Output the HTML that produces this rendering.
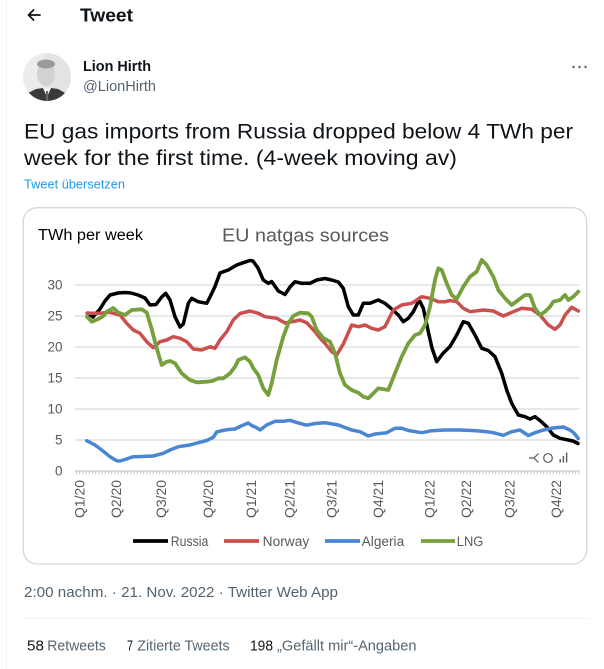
<!DOCTYPE html>
<html><head><meta charset="utf-8">
<style>
html,body{margin:0;padding:0;background:#fff;width:604px;height:669px;overflow:hidden}
svg{display:block}
.t{font-family:"Liberation Sans",Arial,sans-serif}
</style></head>
<body>
<svg width="604" height="669" viewBox="0 0 604 669" xmlns="http://www.w3.org/2000/svg">
<defs>
<clipPath id="av"><circle cx="47" cy="77" r="24"/></clipPath>
</defs>
<rect width="604" height="669" fill="#fff"/>
<line x1="6.5" y1="0" x2="6.5" y2="669" stroke="#eff3f4" stroke-width="1"/>

<!-- header -->
<path d="M28.5,15 H40 M33.5,10 L28.5,15 L33.5,20" fill="none" stroke="#0f1419" stroke-width="1.8" stroke-linecap="round" stroke-linejoin="round"/>
<text class="t" x="80" y="21.5" font-size="18" font-weight="bold" fill="#0f1419" textLength="53" lengthAdjust="spacingAndGlyphs">Tweet</text>

<!-- avatar -->
<g clip-path="url(#av)">
<rect x="23" y="53" width="48" height="48" fill="#e3e3e3"/>
<rect x="23" y="53" width="22" height="48" fill="#ececec"/>
<ellipse cx="46" cy="74" rx="9" ry="12" fill="#d2d2d2"/>
<ellipse cx="46" cy="64" rx="9" ry="4.5" fill="#9a9a9a"/>
<path d="M22,101 L26,94 L36,89 L43,88 L47,96 L51,88 L58,89 L67,94 L72,101 Z" fill="#3a3a3a"/>
<path d="M43,88 L47,97 L51,88 Z" fill="#f2f2f2"/>
<path d="M46,91 L48,91 L48,101 L46,101 Z" fill="#666"/>
</g>

<text class="t" x="83" y="71" font-size="15" font-weight="bold" fill="#0f1419" textLength="68" lengthAdjust="spacingAndGlyphs">Lion Hirth</text>
<text class="t" x="83" y="91" font-size="15" fill="#536471" textLength="73" lengthAdjust="spacingAndGlyphs">@LionHirth</text>
<g fill="#536471"><circle cx="573.5" cy="67" r="1.2"/><circle cx="579.5" cy="67" r="1.2"/><circle cx="585.5" cy="67" r="1.2"/></g>

<!-- tweet text -->
<text class="t" x="24" y="138.5" font-size="21" fill="#0f1419" textLength="549" lengthAdjust="spacingAndGlyphs">EU gas imports from Russia dropped below 4 TWh per</text>
<text class="t" x="24" y="164.8" font-size="21" fill="#0f1419" textLength="433" lengthAdjust="spacingAndGlyphs">week for the first time. (4-week moving av)</text>
<text class="t" x="24" y="188.3" font-size="12.5" fill="#1d9bf0" textLength="101" lengthAdjust="spacingAndGlyphs">Tweet übersetzen</text>

<!-- chart card -->
<rect x="23.3" y="207.7" width="563.4" height="356.3" rx="14" ry="14" fill="#fff" stroke="#cfd9de" stroke-width="1.3"/>

<!-- chart titles -->
<text class="t" x="38" y="240" font-size="15.5" fill="#000" textLength="105" lengthAdjust="spacingAndGlyphs">TWh per week</text>
<text class="t" x="222" y="241.5" font-size="18" fill="#595959" textLength="167" lengthAdjust="spacingAndGlyphs">EU natgas sources</text>

<!-- gridlines -->
<g stroke="#d9d9d9" stroke-width="1.2">
<line x1="75" y1="285" x2="579.5" y2="285"/>
<line x1="75" y1="316" x2="579.5" y2="316"/>
<line x1="75" y1="347" x2="579.5" y2="347"/>
<line x1="75" y1="378" x2="579.5" y2="378"/>
<line x1="75" y1="409" x2="579.5" y2="409"/>
<line x1="75" y1="440" x2="579.5" y2="440"/>
</g>
<line x1="75" y1="471" x2="579.5" y2="471" stroke="#bfbfbf" stroke-width="1"/>
<line x1="76" y1="472.8" x2="579.5" y2="472.8" stroke="#c4c4c4" stroke-width="3" stroke-dasharray="1 2.2"/>

<!-- y tick labels -->
<g class="t" font-size="13.5" fill="#595959" text-anchor="end">
<text x="62.5" y="289.5">30</text>
<text x="62.5" y="320.5">25</text>
<text x="62.5" y="351.5">20</text>
<text x="62.5" y="382.5">15</text>
<text x="62.5" y="413.5">10</text>
<text x="62.5" y="444.5">5</text>
<text x="62.5" y="475.5">0</text>
</g>

<!-- x labels -->
<g class="t" font-size="13.5" fill="#595959">
<text transform="translate(84.5,518) rotate(-90)" textLength="38" lengthAdjust="spacingAndGlyphs">Q1/20</text>
<text transform="translate(121.2,518) rotate(-90)" textLength="38" lengthAdjust="spacingAndGlyphs">Q2/20</text>
<text transform="translate(166.2,518) rotate(-90)" textLength="38" lengthAdjust="spacingAndGlyphs">Q3/20</text>
<text transform="translate(212.8,518) rotate(-90)" textLength="38" lengthAdjust="spacingAndGlyphs">Q4/20</text>
<text transform="translate(256.2,518) rotate(-90)" textLength="38" lengthAdjust="spacingAndGlyphs">Q1/21</text>
<text transform="translate(294.5,518) rotate(-90)" textLength="38" lengthAdjust="spacingAndGlyphs">Q2/21</text>
<text transform="translate(336.7,518) rotate(-90)" textLength="38" lengthAdjust="spacingAndGlyphs">Q3/21</text>
<text transform="translate(382.8,518) rotate(-90)" textLength="38" lengthAdjust="spacingAndGlyphs">Q4/21</text>
<text transform="translate(434.5,518) rotate(-90)" textLength="38" lengthAdjust="spacingAndGlyphs">Q1/22</text>
<text transform="translate(471.2,518) rotate(-90)" textLength="38" lengthAdjust="spacingAndGlyphs">Q2/22</text>
<text transform="translate(514.5,518) rotate(-90)" textLength="38" lengthAdjust="spacingAndGlyphs">Q3/22</text>
<text transform="translate(561.2,518) rotate(-90)" textLength="38" lengthAdjust="spacingAndGlyphs">Q4/22</text>
</g>

<!-- series -->
<g fill="none" stroke-width="3.5" stroke-linejoin="round" stroke-linecap="round">
<polyline stroke="#000" points="88,313 93,317 100,309 105,301 110,295 118,293 125,292.5 131,293 138,295 145,298 150,305 156,304.5 161.7,297 165.7,293.3 170,300 175,316.7 180,327 183.3,324 188.3,303.3 191.7,298.3 198,301.7 206.7,303.3 210,297 215,286.5 220,273 223.3,271.7 228.3,270 236.7,265 243.3,262.7 250,260.5 253,261 258,268 263.3,280 268.3,283.3 271.7,281.5 278.3,291 285,294.5 290,287 295,281.7 301.7,283.3 310,283.3 316.7,280 325,278.5 331.7,280 338.3,282 343.3,288.3 348.3,306.7 353.3,315 358.3,315 363.3,303.3 370,303.3 378.3,300 385,303.3 391.7,309 398.3,315 403.3,321.7 408.3,318.3 413.3,311.7 418.3,301.7 420,301.5 423.3,308.3 428.3,331.7 432,348 436.7,361.7 443.3,353 450,346.5 456.7,335 463.3,321.7 468.3,323.3 475,335 481.7,348.3 488.3,350.5 495,356.7 501.7,373.3 506.7,390 511.7,403.3 518.3,415 525,416.7 530,419 535,416.7 540,420.5 546.7,426.7 553.3,435 560,438.3 568.3,440 573,441 578,443.5"/>
<polyline stroke="#c9504d" points="87,313.3 100,313.3 110,312.3 120,315 126.7,323.3 133.3,330 140,333.3 146.7,341.7 153.3,347.7 160,341.7 166.7,340 173.3,336.7 180,338.3 186.7,341.7 193.3,349 201.7,350 210,346.7 215,348.3 220,340 226.7,331.7 233.3,320 240,313.5 250,311 258.3,313.3 265,316.7 276.7,318.3 285,323 293.3,321.5 300,320 306.7,322.7 315,331.7 320,338 325,343.3 331.7,351.7 336.7,355 343.3,344 351.7,325 358.3,326.7 365,325 371.7,328.3 378.3,330 385,326.7 393.3,310 401.7,305 411.7,303.3 421.7,296.7 430,298.3 438.3,301.7 445,301.7 450,300.5 456.7,301.7 463.3,308.3 470,311.7 483.3,310 493.3,311 503.3,316 513.3,311.7 521.7,308.3 531.7,309.3 540,315 548.3,325 555,329.3 560,325 565,315 571.7,307.3 578.3,311"/>
<polyline stroke="#4a86d4" points="86.7,440.7 95,445 101.7,450 110,456.7 116.7,460.7 120,461 125,459.5 133.3,456.7 141.7,456.5 153.3,456 163.3,453.3 170,450 178.3,446.7 190,445 198.3,442.7 206.7,440.5 213.3,437.3 216.7,432 221.7,430.7 228.3,429.5 235,429 241.7,425.7 248.3,423 251.7,425.5 256.7,427.7 260,430 266.7,425 275,421.3 283.3,421.3 290,420.3 298.3,423 306.7,425.2 315,423.5 325,422.7 338.3,425 351.7,430 360,431.7 368.3,436 375,434 386.7,432.7 395,428.3 401.7,428.3 408.3,430.5 421.7,432.7 431.7,430.7 445,430 460,430 476.7,430.7 486.7,431.7 493.3,432.7 503.3,435.3 511.7,431.7 520,430 528.3,435.5 535,432.7 543.3,430 553.3,428 563.3,427 570,430 574,433 578.3,438.5"/>
<polyline stroke="#76a03c" stroke-width="3.8" points="87,316.7 91.7,321.7 98.3,319 103.3,316 106.7,311.7 110,310 113.3,308 118.3,312.5 125,315 131.7,310 141.7,309.3 146.7,312.5 151.7,329 156.7,348.3 161.7,365 166.7,361.7 170,361 175,363.3 181.7,373.3 186.7,377.5 190,380 196.7,382.3 206.7,381.7 213.3,380.7 218.3,378.3 223.3,378.3 230,373.3 235,366.7 238.3,360 245,357.3 250,361.7 253.3,368.3 258.3,375 263.3,388.3 268.3,395 271.7,383.3 276.7,360 283.3,336.7 288.3,323.3 293.3,316 300,312.7 308.3,313.3 311.7,316.7 316.7,330 323.3,338 330,341.7 335,353.3 340,373.3 345,385 351.7,390 358.3,392.7 363.3,396.7 368.3,398.3 373.3,393.3 378.3,388.3 388.3,390 395,373.3 401.7,356.7 408.3,343.3 415,335 420,333.3 425,325 430,306.7 435,280 438.3,268.3 441.7,270 446.7,283.3 451.7,295 456.7,299 463.3,286.7 470,276.7 476.7,271.7 481.7,260 486.7,265 493.3,276.7 498.3,290 505,298.3 511.7,305 518.3,300 525,295 530,295 535,308.3 540,315 545,311.7 550,306.7 553.3,301.7 560,300 565,295 568.3,300 573.3,296.7 578.3,291.7"/>
</g>

<!-- small icons -->
<g fill="none" stroke="#595959" stroke-width="1.2">
<path d="M529,458 H534 M538.5,453.5 L534,458 L538.5,462.5"/>
<circle cx="548" cy="458" r="4.3"/>
</g>
<g fill="#595959">
<rect x="559.5" y="459" width="1.4" height="3.5"/>
<rect x="562.7" y="456" width="1.4" height="6.5"/>
<rect x="565.9" y="452.5" width="1.4" height="10"/>
</g>

<!-- legend -->
<g stroke-width="3.8" stroke-linecap="butt">
<line x1="133" y1="541" x2="168" y2="541" stroke="#000"/>
<line x1="224" y1="541" x2="259" y2="541" stroke="#c9504d"/>
<line x1="325" y1="541" x2="360" y2="541" stroke="#4a86d4"/>
<line x1="421" y1="541" x2="455" y2="541" stroke="#76a03c"/>
</g>
<g class="t" font-size="13.5" fill="#595959">
<text x="170.8" y="545.8" textLength="37.5" lengthAdjust="spacingAndGlyphs">Russia</text>
<text x="262.7" y="545.8" textLength="46.5" lengthAdjust="spacingAndGlyphs">Norway</text>
<text x="361.7" y="545.8" textLength="42.5" lengthAdjust="spacingAndGlyphs">Algeria</text>
<text x="456.8" y="545.8" textLength="26.5" lengthAdjust="spacingAndGlyphs">LNG</text>
</g>

<!-- footer -->
<text class="t" x="24" y="597" font-size="15" fill="#536471" textLength="314" lengthAdjust="spacingAndGlyphs">2:00 nachm. · 21. Nov. 2022 · Twitter Web App</text>
<line x1="24" y1="618.5" x2="588" y2="618.5" stroke="#eff3f4" stroke-width="1"/>
<g class="t" font-size="14.5">
<text x="27" y="650.5" fill="#0f1419" textLength="17" lengthAdjust="spacingAndGlyphs">58</text>
<text x="47.3" y="650.5" fill="#536471" textLength="58.5" lengthAdjust="spacingAndGlyphs">Retweets</text>
<text x="127" y="650.5" fill="#0f1419" textLength="6" lengthAdjust="spacingAndGlyphs">7</text>
<text x="137.3" y="650.5" fill="#536471" textLength="92.3" lengthAdjust="spacingAndGlyphs">Zitierte Tweets</text>
<text x="250" y="650.5" fill="#0f1419" textLength="23" lengthAdjust="spacingAndGlyphs">198</text>
<text x="277" y="650.5" fill="#536471" textLength="139.5" lengthAdjust="spacingAndGlyphs">„Gefällt mir“-Angaben</text>
</g>
</svg>
</body></html>
